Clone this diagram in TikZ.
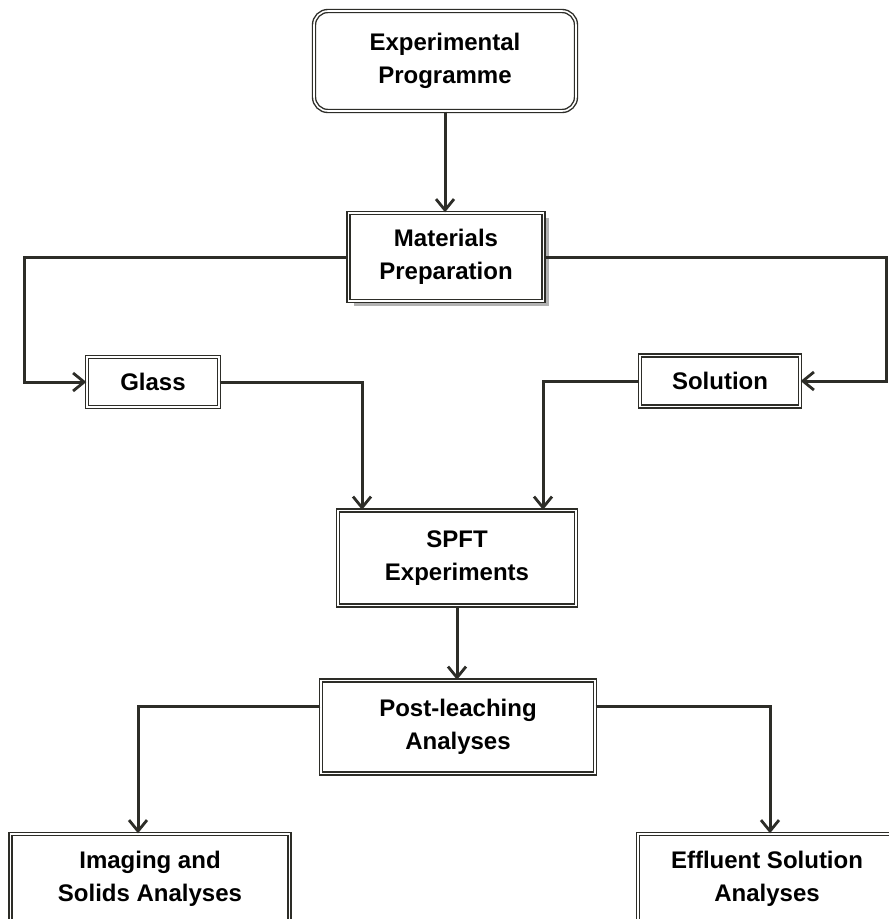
\documentclass[tikz,border=0pt]{standalone}
\usepackage{fontspec}
\setmainfont{Liberation Sans}
\usetikzlibrary{arrows.meta,shadows}
\definecolor{linegrey}{RGB}{45,45,40}

\begin{document}
\begin{tikzpicture}[x=1pt,y=-1pt,
		box/.style={draw=linegrey,double=white,double distance=1.6pt,line width=1.4pt,
			fill=white,align=center,inner sep=0pt,
			font=\bfseries\fontsize{24}{33}\selectfont},
		link/.style={draw=linegrey,line width=3pt,
			-{Straight Barb[length=11pt,width=18pt,line width=2.8pt]}}]
		\clip (0,0) rectangle (889,919);
		\fill[white] (0,0) rectangle (889,919);
		
		\node[box,rounded corners=14pt,minimum width=262pt,minimum height=100pt] (prog) at (445,61) {Experimental\\Programme};
		\node[box,drop shadow={shadow xshift=5pt,shadow yshift=-5pt,fill=black!60},minimum width=195pt,minimum height=88pt] (prep) at (446,257) {Materials\\Preparation};
		\node[box,minimum width=132pt,minimum height=50pt] (glass) at (153,382) {Glass};
		\node[box,minimum width=160pt,minimum height=51pt] (sol) at (720,381) {Solution};
		\node[box,minimum width=238pt,minimum height=95pt] (spft) at (457,558) {SPFT\\Experiments};
		\node[box,minimum width=274pt,minimum height=93pt] (post) at (458,727) {Post-leaching\\Analyses};
		\node[box,minimum width=279pt,minimum height=90pt] (img) at (150,879) {Imaging and\\Solids Analyses};
		\node[box,minimum width=258pt,minimum height=90pt] (eff) at (767,879) {Effluent Solution\\Analyses};
		
		\coordinate (bendL) at (24,0);
		\coordinate (bendR) at (886,0);
		\coordinate (glassin) at (362,0);
		\coordinate (solin) at (543,0);
		
		\draw[link] (prog.south) -- (prog.south |- prep.north);
		\draw[link] (prep.west) -| (bendL |- glass) -- (glass.west);
		\draw[link] (prep.east) -| (bendR |- sol) -- (sol.east);
		\draw[link] (glass.east) -| (glassin |- spft.north);
		\draw[link] (sol.west) -| (solin |- spft.north);
		\draw[link] (spft.south) -- (spft.south |- post.north);
		\draw[link] ([yshift=21pt]post.west) -| ([xshift=-12pt]img.north);
		\draw[link] ([yshift=21pt]post.east) -| ([xshift=3pt]eff.north);
	\end{tikzpicture}
\end{document}
